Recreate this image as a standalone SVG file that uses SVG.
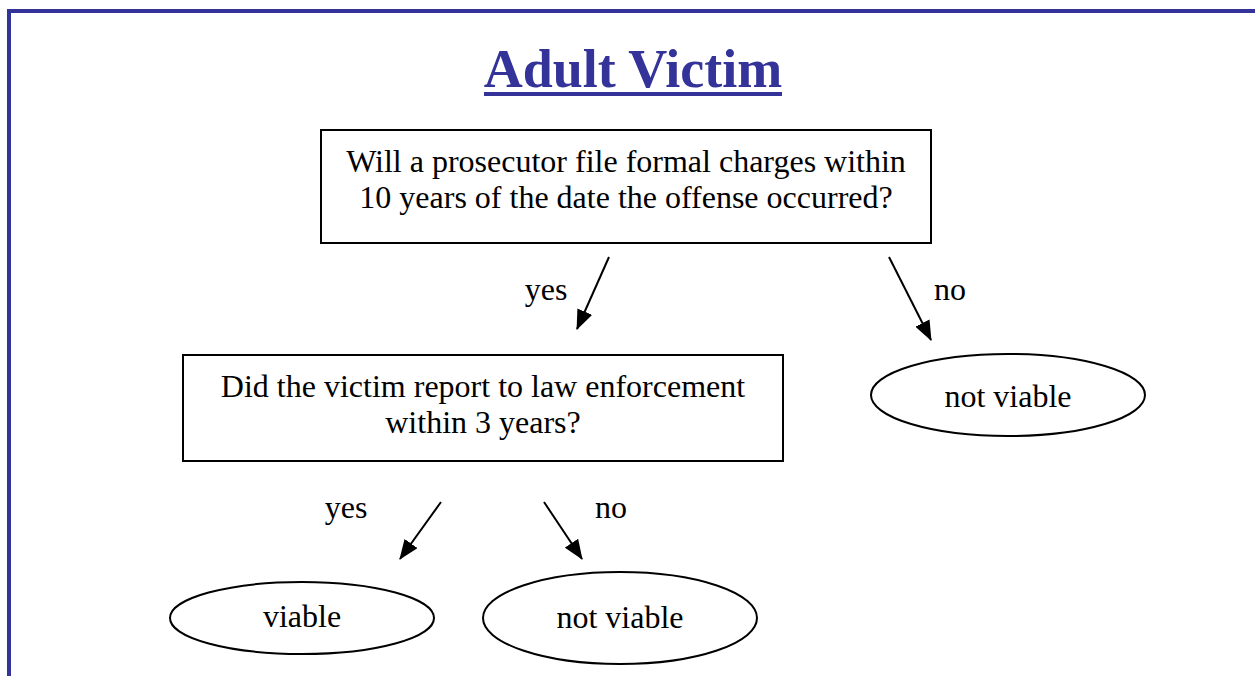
<svg xmlns="http://www.w3.org/2000/svg" width="1255" height="676" viewBox="0 0 1255 676">
<defs>
<style>
.t{font-family:"Liberation Serif","Times New Roman",serif;font-size:32px;fill:#000;text-anchor:middle}
.title{font-family:"Liberation Serif","Times New Roman",serif;font-size:54px;font-weight:bold;fill:#333399;text-anchor:middle}
.box{fill:#fff;stroke:#000;stroke-width:2}
.conn{stroke:#000;stroke-width:2;fill:none;marker-end:url(#ah)}
</style>
<marker id="ah" viewBox="0 0 20 16" refX="19" refY="8" markerWidth="20" markerHeight="16" markerUnits="userSpaceOnUse" orient="auto">
<path d="M0,0 L20,8 L0,16 z" fill="#000"/>
</marker>
</defs>
<rect width="1255" height="676" fill="#fff"/>
<g id="frame" fill="#333399">
<rect x="7" y="9" width="1248" height="4"/>
<rect x="7" y="9" width="4" height="667"/>
</g>
<g id="title">
<text class="title" x="633" y="87">Adult Victim</text>
<rect x="484" y="92" width="298" height="4" fill="#333399"/>
</g>
<g id="q1">
<rect class="box" x="321" y="130" width="610" height="113"/>
<text class="t" x="626" y="172">Will a prosecutor file formal charges within</text>
<text class="t" x="626" y="208">10 years of the date the offense occurred?</text>
</g>
<g id="q2">
<rect class="box" x="183" y="355" width="600" height="106"/>
<text class="t" x="483" y="397">Did the victim report to law enforcement</text>
<text class="t" x="483" y="433">within 3 years?</text>
</g>
<g id="nv1">
<ellipse class="box" cx="1008" cy="395" rx="137" ry="41"/>
<text class="t" x="1008" y="407">not viable</text>
</g>
<g id="v">
<ellipse class="box" cx="302" cy="618" rx="132" ry="36"/>
<text class="t" x="302" y="627">viable</text>
</g>
<g id="nv2">
<ellipse class="box" cx="620" cy="618" rx="137" ry="46"/>
<text class="t" x="620" y="628">not viable</text>
</g>
<g id="connectors">
<line class="conn" x1="609" y1="257" x2="577" y2="329"/>
<line class="conn" x1="889" y1="257" x2="931" y2="340"/>
<line class="conn" x1="441" y1="502" x2="400" y2="559"/>
<line class="conn" x1="544" y1="502" x2="582" y2="559"/>
<text class="t" x="546" y="300">yes</text>
<text class="t" x="950" y="300">no</text>
<text class="t" x="346" y="518">yes</text>
<text class="t" x="611" y="518">no</text>
</g>
</svg>
